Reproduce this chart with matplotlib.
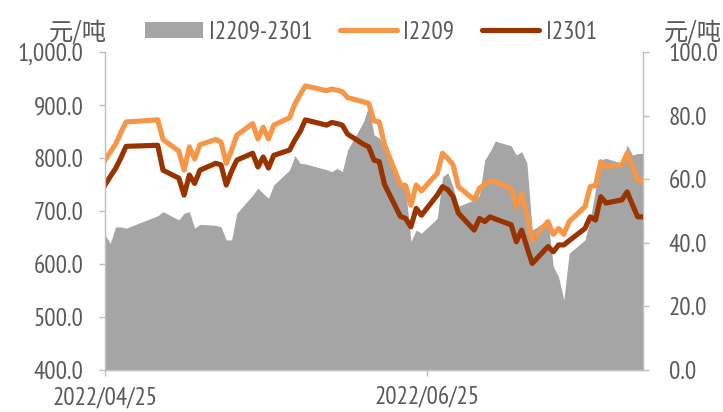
import pandas as pd
import matplotlib
matplotlib.use("Agg")
import matplotlib.pyplot as plt
import matplotlib.dates as mdates
from matplotlib import font_manager as fm
from matplotlib.patches import Patch
from matplotlib.lines import Line2D
from matplotlib.ticker import FuncFormatter, MultipleLocator

# trading days 2022-04-25 .. 2022-08-05 (holidays removed)
holidays = ["2022-05-02", "2022-05-03", "2022-05-04", "2022-06-03"]
dates = pd.bdate_range("2022-04-25", "2022-08-05")
dates = dates[~dates.isin(pd.to_datetime(holidays))]

i2209 = [796, 811, 826, 848, 868, 872, 835, 813, 777, 821,
         798, 825, 835, 830, 790, 815, 843, 865, 836, 858,
         836, 862, 876, 902, 920, 936, 927, 930, 928, 925,
         914, 906, 903, 870, 868, 825, 750, 748, 711, 749,
         738, 771, 809, 799, 787, 746, 721, 743, 750, 757,
         755, 743, 708, 733, 692, 645, 680, 656, 667, 656,
         680, 708, 746, 748, 793, 784, 787, 809, 785, 758, 757]

i2301 = [749, 765, 780, 800, 822, 824, 777, 762, 730, 768,
         752, 777, 790, 787, 749, 775, 796, 809, 783, 802,
         781, 805, 815, 834, 850, 872, 862, 867, 865, 862,
         845, 826, 821, 796, 793, 750, 690, 686, 670, 705,
         692, 730, 746, 740, 727, 696, 664, 686, 680, 689,
         685, 674, 642, 664, 632, 601, 633, 623, 636, 636,
         644, 667, 689, 683, 727, 715, 721, 736, 712, 689, 689]

spread = [42.5, 39.8, 45.0, 45.0, 44.6, 48.5, 49.8, 47.2, 49.3, 49.8,
          44.6, 45.8, 45.5, 45.0, 40.9, 40.9, 49.3, 55.0, 57.2, 55.5,
          54.0, 58.2, 62.9, 67.4, 65.0, 64.8, 63.0, 62.4, 63.4, 62.4,
          69.2, 78.0, 83.0, 74.0, 73.0, 70.0, 58.0, 57.0, 40.4, 44.0,
          43.0, 47.7, 60.8, 62.0, 57.5, 51.5, 53.5, 55.0, 66.0, 68.7,
          72.0, 70.5, 67.6, 68.7, 65.0, 44.0, 47.2, 32.5, 29.3, 22.0,
          36.7, 40.9, 47.2, 57.0, 66.0, 66.6, 65.0, 70.8, 67.6, 68.1, 68.1]

labels = ["I2209-2301", "I2209", "I2301"]

ORANGE = "#F79646"
BROWN = "#993300"
GREY = "#A5A5A5"
TXT = "#595959"
SPINE = "#BFBFBF"


def have(name):
    try:
        fm.findfont(name, fallback_to_default=False)
        return True
    except ValueError:
        return False


# narrow latin font, like the squeezed original
latin, fs = "DejaVu Sans", 13
for name, size in [("PT Sans Narrow", 18), ("Roboto Condensed", 16.5)]:
    if have(name):
        latin, fs = name, size
        break
plt.rcParams["font.family"] = [latin, "Noto Sans CJK SC", "DejaVu Sans"]

fig = plt.figure(figsize=(7.23, 4.12), dpi=100)
ax = fig.add_axes([0.1452, 0.1019, 0.7441, 0.7719])
ax2 = ax.twinx()
ax.set_zorder(ax2.get_zorder() + 1)
ax.patch.set_visible(False)

# spread area on the right axis
ax2.fill_between(dates, 0, spread, color=GREY, lw=0)
ax2.set_ylim(0, 100)
ax2.yaxis.set_major_locator(MultipleLocator(20))
ax2.yaxis.set_major_formatter(FuncFormatter(lambda v, p: f"{v:,.1f}"))

# price lines on the left axis
ax.plot(dates, i2209, color=ORANGE, lw=3.7, solid_joinstyle="round")
ax.plot(dates, i2301, color=BROWN, lw=3.7, solid_joinstyle="round")
ax.set_ylim(400, 1000)
ax.yaxis.set_major_locator(MultipleLocator(100))
ax.yaxis.set_major_formatter(FuncFormatter(lambda v, p: f"{v:,.1f}"))

ax.set_xlim(pd.Timestamp("2022-04-25"), pd.Timestamp("2022-08-05"))
ax.xaxis.set_major_locator(mdates.MonthLocator(bymonth=[4, 6, 8], bymonthday=25))
ax.xaxis.set_major_formatter(mdates.DateFormatter("%Y/%m/%d"))

for a in (ax, ax2):
    a.spines["top"].set_visible(False)
    for s in ("left", "right", "bottom"):
        a.spines[s].set_color(SPINE)
        a.spines[s].set_linewidth(1)
    a.tick_params(colors=SPINE, labelcolor=TXT, labelsize=fs, length=4.5, width=1)
ax.tick_params(axis="y", pad=11)
ax2.tick_params(axis="y", pad=14)
ax.tick_params(axis="x", pad=7)
ax2.spines["left"].set_visible(False)
ax.spines["right"].set_visible(False)

# unit labels
fig.text(0.148, 0.922, "元/吨", ha="right", va="center", color=TXT,
         fontsize=17.5, family="Noto Sans CJK SC")
fig.text(0.999, 0.922, "元/吨", ha="right", va="center", color=TXT,
         fontsize=17.5, family="Noto Sans CJK SC")

handles = [Patch(facecolor=GREY, edgecolor="none"),
           Line2D([], [], color=ORANGE, lw=3.7, solid_capstyle="round"),
           Line2D([], [], color=BROWN, lw=3.7, solid_capstyle="round")]
fig.legend(handles, labels, loc="center", bbox_to_anchor=(0.513, 0.922), ncol=3,
           frameon=False, fontsize=fs, labelcolor=TXT, handlelength=2.3,
           handleheight=0.6, handletextpad=0.25, columnspacing=1.1,
           borderaxespad=0, borderpad=0)

fig.savefig("out.png", dpi=100)
